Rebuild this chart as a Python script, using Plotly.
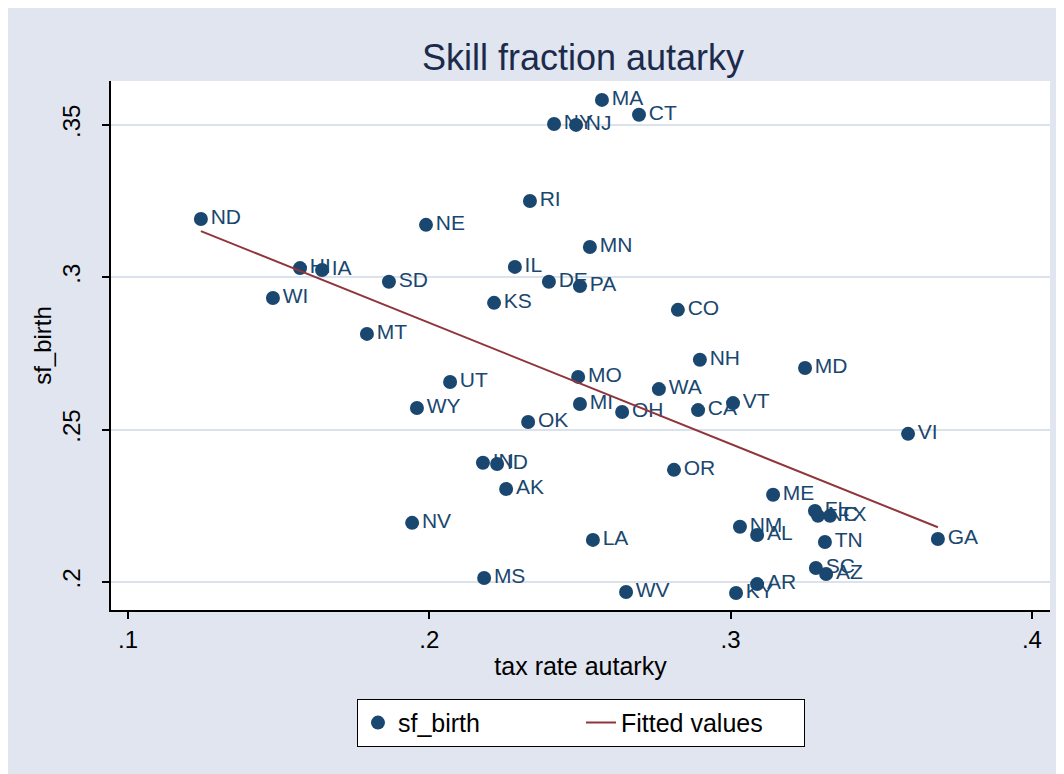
import numpy as np
import plotly.graph_objects as go

states = ["ND", "NE", "MA", "CT", "NY", "NJ", "RI", "MN", "HI", "IA",
          "IL", "SD", "DE", "PA", "WI", "KS", "CO", "MT", "NH", "MD",
          "UT", "MO", "WA", "WY", "MI", "OH", "CA", "VT", "OK", "VI",
          "GA", "IN", "ID", "OR", "AK", "ME", "FL", "NC", "TX", "NV",
          "NM", "AL", "TN", "LA", "SC", "AZ", "MS", "AR", "WV", "KY"]
tax_rate = [0.1242, 0.1989, 0.2573, 0.2696, 0.2414, 0.2487, 0.2334, 0.2533, 0.1571, 0.1644,
            0.2284, 0.1866, 0.2397, 0.2500, 0.1481, 0.2215, 0.2825, 0.1793, 0.2898, 0.3247,
            0.2069, 0.2494, 0.2762, 0.1959, 0.2500, 0.2640, 0.2892, 0.3008, 0.2328, 0.3589,
            0.3688, 0.2178, 0.2225, 0.2812, 0.2255, 0.3141, 0.3280, 0.3290, 0.3330, 0.1943,
            0.3031, 0.3088, 0.3313, 0.2543, 0.3283, 0.3317, 0.2182, 0.3088, 0.2653, 0.3018]
sf_birth = [0.3191, 0.3172, 0.3582, 0.3533, 0.3503, 0.3500, 0.3250, 0.3099, 0.3030, 0.3024,
            0.3034, 0.2985, 0.2985, 0.2971, 0.2932, 0.2916, 0.2893, 0.2814, 0.2729, 0.2702,
            0.2656, 0.2673, 0.2633, 0.2571, 0.2584, 0.2558, 0.2564, 0.2587, 0.2525, 0.2486,
            0.2141, 0.2391, 0.2387, 0.2368, 0.2305, 0.2286, 0.2233, 0.2217, 0.2217, 0.2194,
            0.2181, 0.2154, 0.2131, 0.2138, 0.2046, 0.2026, 0.2013, 0.1993, 0.1967, 0.1964]

x_ticks = [0.1, 0.2, 0.3, 0.4]
x_ticktext = [".1", ".2", ".3", ".4"]
y_ticks = [0.2, 0.25, 0.3, 0.35]
y_ticktext = [".2", ".25", ".3", ".35"]

# Linear fit (Fitted values)
xa = np.array(tax_rate)
ya = np.array(sf_birth)
slope, intercept = np.polyfit(xa, ya, 1)
fit_x = np.sort(xa)
fit_y = intercept + slope * fit_x

NAVY = "#1A476F"
MAROON = "#90353B"
FONT = "Liberation Sans, Arial, sans-serif"

fig = go.Figure()
fig.add_trace(go.Scatter(
    x=tax_rate, y=sf_birth, mode="markers+text", text=states,
    textposition="middle right",
    textfont=dict(family=FONT, size=21, color=NAVY),
    marker=dict(size=14, color=NAVY),
    name="sf_birth", cliponaxis=False,
))
fig.add_trace(go.Scatter(
    x=fit_x, y=fit_y, mode="lines",
    line=dict(color=MAROON, width=2),
    name="Fitted values",
))

fig.update_layout(
    width=1064, height=774,
    margin=dict(l=103, r=22, t=73, b=172),
    paper_bgcolor="#E0E5EF",
    plot_bgcolor="white",
    font=dict(family=FONT, size=24, color="black"),
    title=dict(text="Skill fraction autarky", x=0.5404, xanchor="center",
               y=1 - 49 / 774, yanchor="middle", yref="container",
               font=dict(family=FONT, size=36, color="#1C2A4C")),
    showlegend=True,
    legend=dict(orientation="h", x=0.5005, xanchor="center", y=-0.168, yanchor="top",
                bgcolor="white", bordercolor="black", borderwidth=1,
                font=dict(family=FONT, size=25, color="black"),
                entrywidth=178, itemwidth=30),
)
fig.update_xaxes(
    range=[0.09436, 0.4060], tickvals=x_ticks, ticktext=x_ticktext,
    showgrid=False, zeroline=False,
    showline=True, linecolor="black", linewidth=2,
    ticks="outside", ticklen=7, tickwidth=2, tickcolor="black",
    tickfont=dict(family=FONT, size=24, color="black"),
    title=dict(text="tax rate autarky", font=dict(family=FONT, size=25, color="black"), standoff=6),
)
fig.update_yaxes(
    range=[0.1908, 0.3644], tickvals=y_ticks, ticktext=y_ticktext,
    showgrid=True, gridcolor="#DCE2EC", gridwidth=2, zeroline=False,
    showline=True, linecolor="black", linewidth=2,
    ticks="outside", ticklen=7, tickwidth=2, tickcolor="black",
    tickangle=-90, ticklabelstandoff=12,
    tickfont=dict(family=FONT, size=24, color="black"),
    title=dict(text="sf_birth", font=dict(family=FONT, size=24, color="black"), standoff=0),
)
fig.update_yaxes(title_standoff=0)
fig.update_layout(yaxis_title_font_size=24)
# nudge the y-axis title slightly toward the axis
fig.update_layout(margin_l=103)
fig.layout.yaxis.title.standoff = 0
fig.layout.yaxis.automargin = False

fig.write_html("out.html")
